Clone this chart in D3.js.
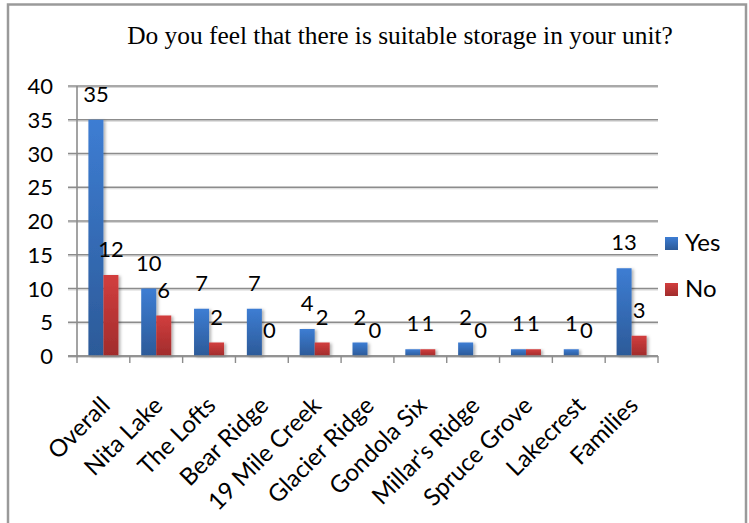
<!DOCTYPE html>
<html>
<head>
<meta charset="utf-8">
<script src="https://cdn.jsdelivr.net/npm/d3@7"></script>
<style>
  body { margin: 0; background: #fff; }
  svg { display: block; }
  .label, .tick-label, .cat-label, .legend-label { font-family: Lato, "Open Sans", sans-serif; fill: #000; }
  .title { font-family: "Liberation Serif", "DejaVu Serif", serif; fill: #000; }
</style>
</head>
<body>
<div id="chart"></div>
<script>
// chart data
var categories = ["Overall", "Nita Lake", "The Lofts", "Bear Ridge", "19 Mile Creek", "Glacier Ridge",
  "Gondola Six", "Millar's Ridge", "Spruce Grove", "Lakecrest", "Families"];
var yesValues = [35, 10, 7, 7, 4, 2, 1, 2, 1, 1, 13];
var noValues = [12, 6, 2, 0, 2, 0, 1, 0, 1, 0, 3];
var seriesNames = ["Yes", "No"];
var yTicks = [0, 5, 10, 15, 20, 25, 30, 35, 40];
var titleText = "Do you feel that there is suitable storage in your unit?";

var W = 749, H = 523;
var margin = { left: 77, right: 658, top: 86, bottom: 356 };

var svg = d3.select("#chart").append("svg").attr("width", W).attr("height", H);
var defs = svg.append("defs");

function gradient(id, top, bottom) {
  var g = defs.append("linearGradient").attr("id", id)
    .attr("x1", 0).attr("y1", 0).attr("x2", 0).attr("y2", 1);
  g.append("stop").attr("offset", "0%").attr("stop-color", top);
  g.append("stop").attr("offset", "100%").attr("stop-color", bottom);
}
gradient("gradYes", "#3d7dd3", "#2c5a98");
gradient("gradNo", "#d23e3e", "#a02c2c");
var fills = { Yes: "url(#gradYes)", No: "url(#gradNo)" };

var shadow = defs.append("filter").attr("id", "shadow")
  .attr("x", "-20%").attr("y", "-5%").attr("width", "160%").attr("height", "115%");
shadow.append("feDropShadow").attr("dx", 2).attr("dy", 1).attr("stdDeviation", 1.5)
  .attr("flood-color", "#000").attr("flood-opacity", 0.3);

// outer frame
svg.append("rect").attr("x", 8).attr("y", 4.5).attr("width", 738).attr("height", 530)
  .attr("fill", "none").attr("stroke", "#9a9a9a").attr("stroke-width", 2.5);

// title, fitted to the same width as the original
var title = svg.append("text").attr("class", "title")
  .attr("x", 400).attr("y", 44).attr("text-anchor", "middle")
  .style("font-size", "20px").text(titleText);
var tw = title.node().getComputedTextLength();
title.style("font-size", (20 * 546 / tw) + "px");

// scales
var x0 = d3.scaleBand().domain(categories).range([margin.left, margin.right]).padding(0);
var x1 = d3.scaleBand().domain(seriesNames).range([0, x0.bandwidth()])
  .paddingInner(0).paddingOuter(0.76);
var y = d3.scaleLinear().domain([0, 40]).range([margin.bottom, margin.top]);

// gridlines
var grid = svg.append("g");
grid.selectAll("line.shade").data(yTicks).enter().append("line")
  .attr("x1", 68).attr("x2", margin.right)
  .attr("y1", function (d) { return y(d) + 1.5; }).attr("y2", function (d) { return y(d) + 1.5; })
  .attr("stroke", "#d6d6d6").attr("stroke-width", 1.2);
grid.selectAll("line.main").data(yTicks).enter().append("line")
  .attr("x1", 68).attr("x2", margin.right)
  .attr("y1", function (d) { return y(d); }).attr("y2", function (d) { return y(d); })
  .attr("stroke", "#8c8c8c").attr("stroke-width", 1.6);

// y axis line
svg.append("line").attr("x1", margin.left).attr("x2", margin.left)
  .attr("y1", y(40)).attr("y2", y(0)).attr("stroke", "#8c8c8c").attr("stroke-width", 1.6);

// y tick labels
svg.selectAll("text.tick-label").data(yTicks).enter().append("text")
  .attr("class", "tick-label").attr("x", 53).attr("y", function (d) { return y(d) + 8; })
  .attr("text-anchor", "end").style("font-size", "22px")
  .text(function (d) { return d; });

// bars
var rows = categories.map(function (c, i) {
  return { cat: c, values: [{ key: "Yes", v: yesValues[i] }, { key: "No", v: noValues[i] }] };
});
var groups = svg.selectAll("g.cat").data(rows).enter().append("g")
  .attr("transform", function (d) { return "translate(" + x0(d.cat) + ",0)"; });
groups.selectAll("rect").data(function (d) { return d.values; }).enter().append("rect")
  .attr("x", function (d) { return x1(d.key); })
  .attr("y", function (d) { return y(d.v); })
  .attr("width", x1.bandwidth())
  .attr("height", function (d) { return y(0) - y(d.v); })
  .attr("fill", function (d) { return fills[d.key]; })
  .attr("filter", "url(#shadow)");

// data labels
groups.selectAll("text").data(function (d) { return d.values; }).enter().append("text")
  .attr("class", "label")
  .attr("x", function (d) { return x1(d.key) + x1.bandwidth() / 2; })
  .attr("y", function (d) { return y(d.v) - 18; })
  .attr("text-anchor", "middle").style("font-size", "22px")
  .text(function (d) { return d.v; });

// x axis line and ticks
svg.append("line").attr("x1", 68).attr("x2", margin.right)
  .attr("y1", y(0)).attr("y2", y(0)).attr("stroke", "#8c8c8c").attr("stroke-width", 1.6);
var boundaries = categories.map(function (c) { return x0(c); }).concat([margin.right]);
svg.selectAll("line.xtick").data(boundaries).enter().append("line")
  .attr("x1", function (d) { return d; }).attr("x2", function (d) { return d; })
  .attr("y1", y(0)).attr("y2", y(0) + 7).attr("stroke", "#8c8c8c").attr("stroke-width", 1.4);

// category labels, rotated
svg.selectAll("text.cat-label").data(categories).enter().append("text")
  .attr("class", "cat-label")
  .attr("text-anchor", "end").style("font-size", "24px")
  .attr("transform", function (d) {
    return "translate(" + (x0(d) + x0.bandwidth() / 2 + 8) + "," + (y(0) + 51) + ") rotate(-45)";
  })
  .text(function (d) { return d; });

// legend
var legend = svg.selectAll("g.legend").data(seriesNames).enter().append("g")
  .attr("transform", function (d, i) { return "translate(665," + (237 + i * 46) + ")"; });
legend.append("rect").attr("width", 13).attr("height", 13)
  .attr("fill", function (d) { return fills[d]; });
legend.append("text").attr("class", "legend-label")
  .attr("x", 20).attr("y", 14).style("font-size", "24px")
  .text(function (d) { return d; });
</script>
</body>
</html>
